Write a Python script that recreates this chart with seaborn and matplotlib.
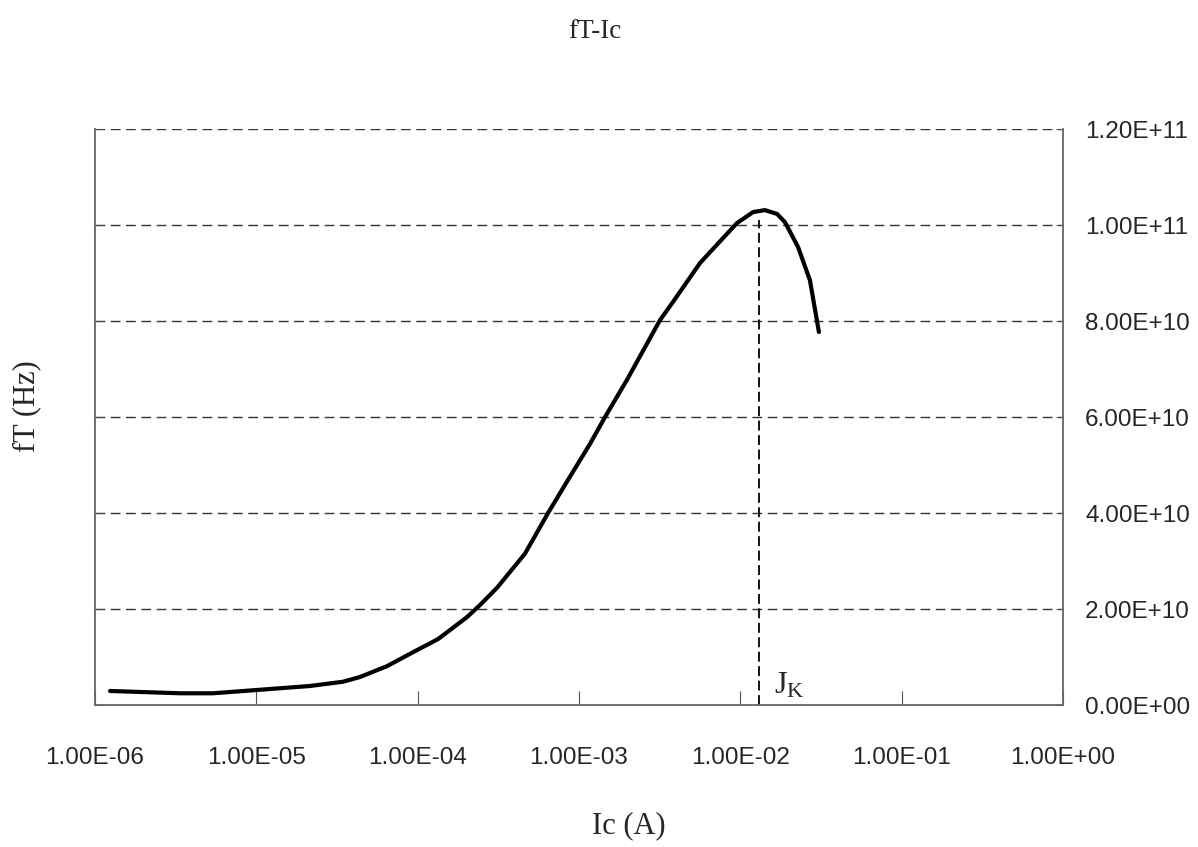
import numpy as np
import pandas as pd
import matplotlib
matplotlib.use("Agg")
import matplotlib.pyplot as plt
import seaborn as sns
from matplotlib.ticker import FuncFormatter, FixedLocator, NullLocator

# ---- data ----
ic_values = [1.24e-6, 3.37e-6, 5.38e-6, 1.01e-5, 2.15e-5, 3.45e-5, 4.39e-5, 6.46e-5,
             9.36e-5, 1.34e-4, 2.02e-4, 2.43e-4, 3.10e-4, 3.73e-4, 4.62e-4, 6.43e-4,
             8.55e-4, 1.17e-3, 1.45e-3, 1.98e-3, 3.18e-3, 3.83e-3, 5.63e-3,
             9.53e-3, 1.20e-2, 1.42e-2, 1.69e-2, 1.89e-2, 2.28e-2, 2.70e-2, 3.07e-2]
ft_values = [2.92e9, 2.44e9, 2.44e9, 3.13e9, 3.96e9, 4.85e9, 5.83e9, 8.1e9,
             11.0e9, 13.75e9, 18.3e9, 20.8e9, 24.4e9, 27.7e9, 31.5e9, 40.0e9,
             46.9e9, 54.4e9, 60.0e9, 67.7e9, 80.2e9, 84.0e9, 92.1e9,
             100.4e9, 102.7e9, 103.1e9, 102.3e9, 100.6e9, 95.4e9, 88.5e9, 77.7e9]
jk_x = [1.31e-2, 1.31e-2]
jk_y = [0.0, 1.01e11]
x_ticks = [1e-6, 1e-5, 1e-4, 1e-3, 1e-2, 1e-1, 1e0]
y_ticks = [0, 2e10, 4e10, 6e10, 8e10, 1e11, 1.2e11]
title_text = "fT-Ic"
xlabel_text = "Ic (A)"
ylabel_text = "fT (Hz)"
jk_label = r"$\mathregular{J_K}$"

sns.set_style("white")
plt.rcParams['font.family'] = ['Liberation Sans', 'DejaVu Sans']

fig = plt.figure(figsize=(11.98, 8.47), dpi=100)
ax = fig.add_axes([95/1198, 1 - 705/847, (1063-95)/1198, (705-129)/847])

df = pd.DataFrame({"Ic": ic_values, "fT": ft_values})
sns.lineplot(data=df, x="Ic", y="fT", sort=False, color="black", linewidth=3.0, ax=ax)
ax.plot(jk_x, jk_y, color="black", linestyle=(0, (5.5, 2.5)), linewidth=1.3)

ax.set_xscale("log")
ax.set_xlim(1e-6, 1e0)
ax.set_ylim(0, 1.2e11)
ax.xaxis.set_major_locator(FixedLocator(x_ticks))
ax.xaxis.set_minor_locator(NullLocator())
ax.yaxis.set_major_locator(FixedLocator(y_ticks))
fmt = FuncFormatter(lambda v, p: "%.2E" % v)
ax.xaxis.set_major_formatter(fmt)
ax.yaxis.set_major_formatter(fmt)

# gridlines (dashed, horizontal only, skip zero)
for yv in y_ticks[1:]:
    ax.axhline(yv, color="#333333", linestyle=(0, (7, 4)), linewidth=1.0, zorder=0)

for s in ["left", "bottom", "right"]:
    ax.spines[s].set_visible(True)
    ax.spines[s].set_color("#666666")
    ax.spines[s].set_linewidth(1.3)
ax.spines["top"].set_visible(False)

ax.tick_params(axis="y", which="major", left=True, right=True, labelleft=False,
               labelright=True, direction="in", length=5, color="#555555",
               labelsize=17.5, pad=16)
ax.tick_params(axis="x", which="major", bottom=True, direction="in", length=10,
               color="#555555", labelsize=17.5, pad=30)
ax.yaxis.set_label_position("left")

ax.set_xlabel(xlabel_text, family="Liberation Serif", fontsize=22, va="center", ha="center")
ax.xaxis.set_label_coords(629/1198, 1 - 826/847, transform=fig.transFigure)
ax.set_ylabel(ylabel_text, family="Liberation Serif", fontsize=22, va="center", ha="center")
ax.yaxis.set_label_coords(27/1198, 1 - 406/847, transform=fig.transFigure)
fig.text(595/1198, 1 - 32/847, title_text, family="Liberation Serif", fontsize=19.5,
         ha="center", va="center")

ax.text(1.62e-2, 2.5e9, jk_label, family="Liberation Serif",
        fontsize=23, ha="left", va="baseline")

fig.savefig("out.png", dpi=100)
